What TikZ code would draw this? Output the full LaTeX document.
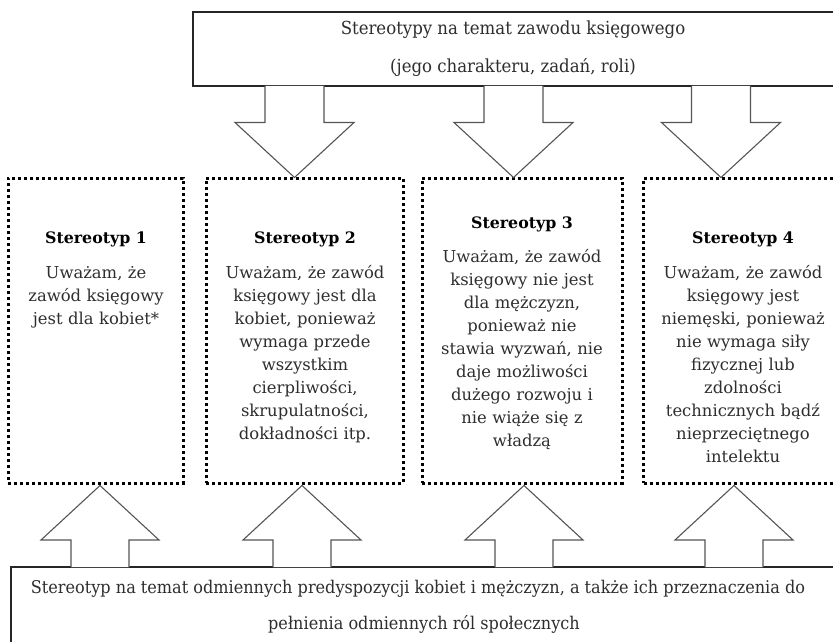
\documentclass[tikz,border=0pt]{standalone}
\usepackage{fontspec}
\setmainfont{DejaVu Serif}
\newfontfamily\condfont{DejaVu Serif}[FakeStretch=0.92]
\definecolor{txtgray}{HTML}{2E2E2E}
\definecolor{arrgray}{HTML}{555555}
\begin{document}
\begin{tikzpicture}[x=1pt,y=-1pt,
  dotbox/.style={draw=black, line width=3pt, dash pattern=on 3pt off 3pt, rectangle, inner sep=0pt},
  plainbox/.style={draw=black!85, line width=1.1pt, rectangle, inner sep=0pt},
  headtxt/.style={font=\bfseries\fontsize{15.8}{18}\selectfont, text=black, inner sep=0pt, anchor=base},
  bodytxt/.style={font=\fontsize{16.4}{23}\selectfont, text=txtgray, inner sep=0pt, anchor=base, align=center, text width=200pt},
  bigtxt/.style={font=\condfont\fontsize{17.5}{20}\selectfont, text=txtgray, inner sep=0pt, anchor=base},
  toptxt/.style={bigtxt, font=\condfont\fontsize{18}{20}\selectfont},
  blockarrow/.style={draw=arrgray, line width=1.1pt, line join=miter, fill=white}
]
\useasboundingbox (0,0) rectangle (833,642);
\clip (0,0) rectangle (833,642);
\fill[white] (0,0) rectangle (833,642);

% top and bottom boxes
\node[plainbox, minimum width=650pt, minimum height=74pt] (top) at (518,49) {};
\node[plainbox, minimum width=840pt, minimum height=90pt] (bot) at (431,612) {};

\node[toptxt] (top1) at (513,35) {Stereotypy na temat zawodu księgowego};
\node[toptxt] (top2) at (513,73) {(jego charakteru, zadań, roli)};
\node[bigtxt] (bot1) at (418,593) {Stereotyp na temat odmiennych predyspozycji kobiet i mężczyzn, a także ich przeznaczenia do};
\node[bigtxt] (bot2) at (424,629) {pełnienia odmiennych ról społecznych};

% dotted boxes
\node[dotbox, minimum width=175pt, minimum height=305pt] (b1) at (95.5,330.5) {};
\node[dotbox, minimum width=197pt, minimum height=305pt] (b2) at (304.5,330.5) {};
\node[dotbox, minimum width=200pt, minimum height=305pt] (b3) at (522,330.5) {};
\node[dotbox, minimum width=200pt, minimum height=305pt] (b4) at (743.5,330.5) {};

% box texts
\node[headtxt] (h1) at (96,243) {Stereotyp 1};
\node[bodytxt] (t1) at (96,278) {Uważam, że\\zawód księgowy\\jest dla kobiet*};
\node[headtxt] (h2) at (305,243) {Stereotyp 2};
\node[bodytxt] (t2) at (305,278) {Uważam, że zawód\\księgowy jest dla\\kobiet, ponieważ\\wymaga przede\\wszystkim\\cierpliwości,\\skrupulatności,\\dokładności itp.};
\node[headtxt] (h3) at (522,228) {Stereotyp 3};
\node[bodytxt] (t3) at (522,262) {Uważam, że zawód\\księgowy nie jest\\dla mężczyzn,\\ponieważ nie\\stawia wyzwań, nie\\daje możliwości\\dużego rozwoju i\\nie wiąże się z\\władzą};
\node[headtxt] (h4) at (743,243) {Stereotyp 4};
\node[bodytxt] (t4) at (743,278) {Uważam, że zawód\\księgowy jest\\niemęski, ponieważ\\nie wymaga siły\\fizycznej lub\\zdolności\\technicznych bądź\\nieprzeciętnego\\intelektu};

% down block arrows (top box -> stereotype boxes)
\foreach \c/\n in {294.5/2, 513.5/3, 721/4}{
  \draw[blockarrow] (\c-29.5,86) -- (\c-29.5,122.5) -- (\c-59.5,122.5) -- (\c,177.5)
     -- (\c+59.5,122.5) -- (\c+29.5,122.5) -- (\c+29.5,86);
}
% up block arrows (bottom box -> stereotype boxes)
\foreach \c/\n in {100/1, 302/2, 524/3, 734/4}{
  \draw[blockarrow] (\c-29,567) -- (\c-29,540) -- (\c-59,540) -- (\c,485.5)
     -- (\c+59,540) -- (\c+29,540) -- (\c+29,567);
}
\end{tikzpicture}
\end{document}
